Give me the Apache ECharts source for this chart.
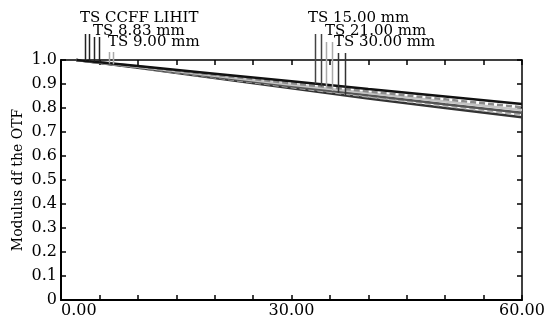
<!DOCTYPE html>
<html><head><meta charset="utf-8">
<script src="https://cdn.jsdelivr.net/npm/echarts@6/dist/echarts.min.js"></script>
<style>html,body{margin:0;padding:0;background:#fff}#c{width:544px;height:322px}</style>
</head><body><div id="c"></div>
<script>
var xValues = [2, 10, 20, 30, 40, 50, 60];
var seriesA = [1.0, 0.975, 0.943, 0.911, 0.879, 0.848, 0.817];
var seriesB = [1.0, 0.973, 0.938, 0.903, 0.869, 0.836, 0.803];
var seriesC = [1.0, 0.972, 0.934, 0.897, 0.862, 0.827, 0.792];
var seriesD = [1.0, 0.970, 0.930, 0.891, 0.853, 0.816, 0.780];
var seriesE = [1.0, 0.969, 0.928, 0.887, 0.848, 0.809, 0.772];
var seriesF = [1.0, 0.968, 0.925, 0.882, 0.840, 0.800, 0.761];
var labelTexts = ["TS CCFF LIHIT", "TS 8.83 mm", "TS 9.00 mm", "TS 15.00 mm", "TS 21.00 mm", "TS 30.00 mm"];
var yTickLabels = ["0", "0.1", "0.2", "0.3", "0.4", "0.5", "0.6", "0.7", "0.8", "0.9", "1.0"];
var xTickLabels = {0: "0.00", 30: "30.00", 60: "60.00"};
// leader line x positions (data units) and which series they point to
var leaderX = [3.1, 3.65, 4.3, 4.95, 6.25, 6.8, 33.05, 33.8, 34.5, 35.3, 36.05, 36.95];

var allSeries = [seriesA, seriesB, seriesC, seriesD, seriesE, seriesF];
var styles = [
  {color:'#111', width:2.5, type:'solid'},
  {color:'#8a8a8a', width:2.5, type:[6,3]},
  {color:'#c4c4c4', width:2.5, type:'solid'},
  {color:'#555', width:2.5, type:'solid'},
  {color:'#b0b0b0', width:2.5, type:[6,3]},
  {color:'#333', width:2.5, type:'solid'}
];
var leaderSeries = [0,1,0,1,2,3, 0,1,2,3,4,5];
var leaderTop = [34,34,37,37,52,52, 34,34,42,42,53,53];
var leaderColor = ['#222','#222','#222','#222','#aaa','#aaa','#444','#444','#aaa','#aaa','#333','#333'];
var labelPos = [[80,11],[93,24],[108,35],[308,11],[325,24],[334,35]];

var FONT = 'DejaVu Serif';
var chart = echarts.init(document.getElementById('c'), null, {renderer:'canvas'});
var series = allSeries.map(function(s, i){
  return {type:'line', symbol:'none', animation:false, clip:false,
    data: xValues.map(function(x, j){ return [x, s[j]]; }),
    lineStyle: styles[i], z: 2 + (5 - i)};
});
chart.setOption({
  animation:false,
  grid:{left:61, right:22, top:60, bottom:22, containLabel:false, outerBoundsMode:'none'},
  xAxis:[{type:'value', min:0, max:60, interval:5, position:'bottom',
    axisLine:{onZero:false, lineStyle:{color:'#000', width:2}},
    axisTick:{inside:true, length:5, lineStyle:{color:'#000', width:1.5}},
    splitLine:{show:false},
    axisLabel:{margin:3, color:'#000', fontFamily:FONT, fontSize:16, alignMinLabel:'left',
      formatter:function(v){ return xTickLabels[v] !== undefined ? xTickLabels[v] : ''; }}},
   {type:'value', min:0, max:60, interval:5, position:'top',
    axisLine:{show:true, onZero:false, lineStyle:{color:'#000', width:1.5}},
    axisTick:{inside:true, length:5, lineStyle:{color:'#000', width:1.5}},
    axisLabel:{show:false}, splitLine:{show:false}}],
  yAxis:[{type:'value', min:0, max:1, interval:0.1, position:'left',
    name:'Modulus df the OTF', nameLocation:'middle', nameGap:36, nameRotate:90, nameMoveOverlap:false,
    nameTextStyle:{color:'#000', fontFamily:FONT, fontSize:14},
    axisLine:{show:true, onZero:false, lineStyle:{color:'#000', width:2}},
    axisTick:{show:true, inside:true, length:5, lineStyle:{color:'#000', width:1.5}},
    splitLine:{show:false},
    axisLabel:{margin:4, color:'#000', fontFamily:FONT, fontSize:16,
      formatter:function(v){ return yTickLabels[Math.round(v*10)]; }}},
   {type:'value', min:0, max:1, interval:0.1, position:'right',
    axisLine:{show:true, onZero:false, lineStyle:{color:'#000', width:1.5}},
    axisTick:{show:true, inside:true, length:5, lineStyle:{color:'#000', width:1.5}},
    axisLabel:{show:false}, splitLine:{show:false}}],
  series: series
});

function interp(s, x){
  for (var j = 0; j < xValues.length - 1; j++) {
    if (x >= xValues[j] && x <= xValues[j+1]) {
      var t = (x - xValues[j]) / (xValues[j+1] - xValues[j]);
      return s[j] + t * (s[j+1] - s[j]);
    }
  }
  return s[0];
}
var g = [];
leaderX.forEach(function(x, i){
  var s = allSeries[leaderSeries[i]];
  var p = chart.convertToPixel({xAxisIndex:0, yAxisIndex:0}, [x, interp(s, x)]);
  g.push({type:'line', shape:{x1:Math.round(p[0])+0.5, y1:leaderTop[i], x2:Math.round(p[0])+0.5, y2:p[1]},
    style:{stroke:leaderColor[i], lineWidth:1.5}, z:10});
});
labelTexts.forEach(function(t, i){
  g.push({type:'text', x:labelPos[i][0], y:labelPos[i][1],
    style:{text:t, fill:'#000', font:'15px "' + FONT + '"', textVerticalAlign:'top'}, z:11});
});
chart.setOption({graphic:g});
</script></body></html>
